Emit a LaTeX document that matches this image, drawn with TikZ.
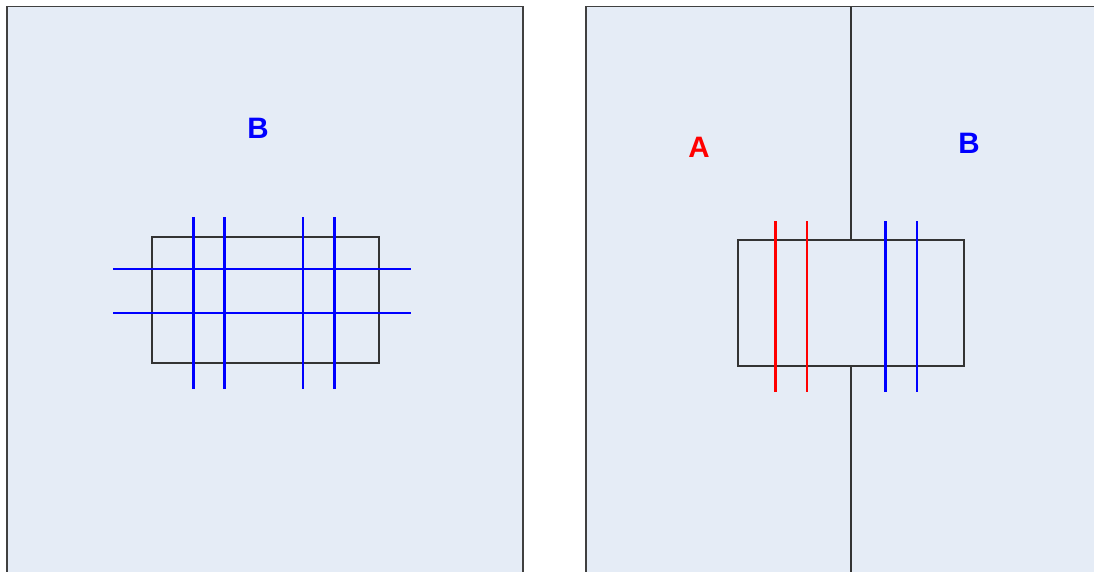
\documentclass[tikz,border=0pt]{standalone}
\usepackage{fontspec}
\setmainfont{Liberation Sans}
\definecolor{panelfill}{RGB}{229,236,246}
\definecolor{panelline}{RGB}{64,64,64}
\tikzset{
    panel/.style={draw=panelline,line width=1.4pt,fill=panelfill},
    outline/.style={draw=black!80,line width=1pt},
    wireB/.style={blue,line width=2pt},
    wireA/.style={red,line width=2pt},
    zone/.style={font=\fontsize{21}{25}\selectfont\bfseries}
}
\begin{document}
\begin{tikzpicture}[x=0.025cm,y=-0.025cm]
    \clip (0,0) rectangle (1094,572);
    \fill[white] (0,0) rectangle (1094,572);
    % left panel: one region
    \begin{scope}
        \draw[panel] (7,6.5) rectangle (523,600);
        \draw[outline] (152,237) rectangle (379,363);
        \foreach \y in {269,313}
            \draw[wireB] (113,\y) -- (411,\y);
        \foreach \x in {193.5,224.5,303,334.5}
            \draw[wireB] (\x,217) -- (\x,389);
        \node[zone,blue] (labelB) at (258,128) {B};
    \end{scope}
    % right panel: two regions split by a border
    \begin{scope}
        \draw[panel] (586,6.5) rectangle (1110,600);
        \draw[outline] (851,6.5) -- (851,240) (851,366) -- (851,600);
        \draw[outline] (738,240) rectangle (964,366);
        \foreach \x in {775.5,807}
            \draw[wireA] (\x,221) -- (\x,392);
        \foreach \x in {885.5,917}
            \draw[wireB] (\x,221) -- (\x,392);
        \node[zone,red] (labelA) at (699,147) {A};
        \node[zone,blue] (labelBr) at (969,143) {B};
    \end{scope}
\end{tikzpicture}
\end{document}
